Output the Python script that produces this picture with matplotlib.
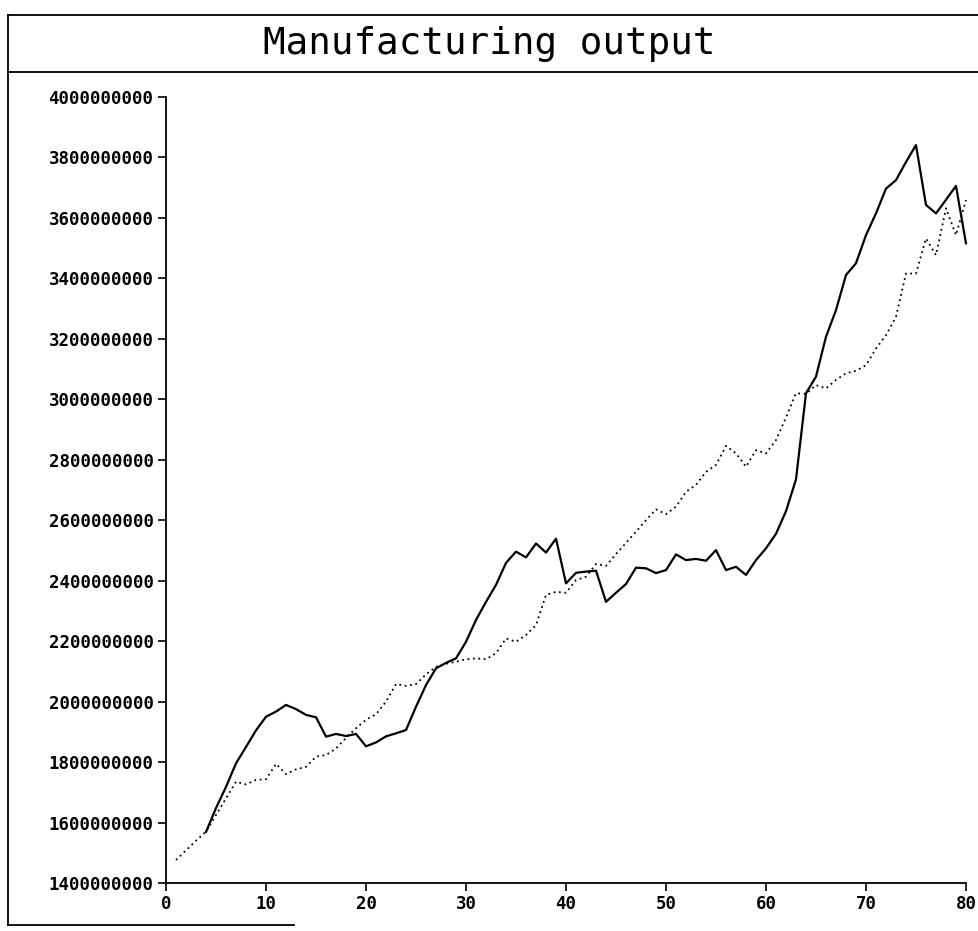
import matplotlib
matplotlib.use("Agg")
import matplotlib.pyplot as plt
from matplotlib.lines import Line2D
import numpy as np

# series, values in millions
anos_punteada = np.arange(1, 81)
punteada = [1476, 1508, 1540, 1570, 1625, 1680, 1735, 1726, 1741, 1743,
            1794, 1760, 1776, 1784, 1818, 1823, 1845, 1880, 1912, 1940,
            1958, 2000, 2058, 2052, 2058, 2090, 2115, 2125, 2132, 2140,
            2143, 2140, 2160, 2209, 2198, 2220, 2253, 2353, 2363, 2360,
            2402, 2413, 2455, 2449, 2488, 2525, 2562, 2600, 2636, 2620,
            2645, 2694, 2717, 2760, 2783, 2846, 2821, 2777, 2832, 2821,
            2865, 2940, 3020, 3018, 3047, 3036, 3064, 3086, 3094, 3113,
            3168, 3212, 3273, 3416, 3416, 3532, 3477, 3632, 3543, 3659]

anos_solida = np.arange(4, 81)
solida = [1569, 1648, 1718, 1796, 1850, 1905, 1950, 1967, 1989, 1975,
          1956, 1948, 1884, 1893, 1886, 1893, 1852, 1865, 1885, 1895,
          1906, 1983, 2055, 2110, 2128, 2143, 2198, 2270, 2330, 2386,
          2459, 2496, 2477, 2523, 2493, 2539, 2391, 2426, 2430, 2433,
          2330, 2360, 2389, 2443, 2441, 2425, 2435, 2487, 2468, 2472,
          2466, 2501, 2435, 2446, 2419, 2468, 2507, 2555, 2630, 2735,
          3020, 3075, 3207, 3295, 3411, 3450, 3543, 3615, 3697, 3725,
          3785, 3841, 3643, 3615, 3660, 3706, 3516]

titulo = "Manufacturing output"
yticks = np.arange(1400000000, 4000000001, 200000000)
xticks = np.arange(0, 81, 10)

fuente = "DejaVu Sans Mono"

fig = plt.figure(figsize=(9.79, 9.31), dpi=100)
ax = fig.add_axes([0.1696, 0.0516, 0.8171, 0.8442])

ax.plot(anos_punteada, np.array(punteada) * 1e6, color="black",
        linestyle=(0, (1, 2)), linewidth=1.3)
ax.plot(anos_solida, np.array(solida) * 1e6, color="black", linewidth=1.6)

ax.set_xlim(0, 80)
ax.set_ylim(1400000000, 4000000000)
ax.set_xticks(xticks)
ax.set_yticks(yticks)
ax.set_xticklabels([str(t) for t in xticks], family=fuente,
                   fontweight="bold", fontsize=12.5)
ax.set_yticklabels([str(t) for t in yticks], family=fuente,
                   fontweight="bold", fontsize=12.5)
ax.tick_params(direction="out", length=6, width=1.2, color="black", pad=3)
ax.spines["top"].set_visible(False)
ax.spines["right"].set_visible(False)
for s in ("left", "bottom"):
    ax.spines[s].set_linewidth(1.3)
for l in ax.lines:
    l.set_clip_on(False)

# marco y caja del titulo
for xs, ys in [([0.0082, 0.0082], [0.984, 0.0064]),
               ([0.0082, 1.0], [0.984, 0.984]),
               ([0.0082, 1.0], [0.9227, 0.9227]),
               ([0.0082, 0.30], [0.0064, 0.0064])]:
    fig.add_artist(Line2D(xs, ys, color="black", linewidth=1.3,
                          transform=fig.transFigure))

fig.text(0.5, 0.953, titulo, ha="center", va="center", family=fuente,
         fontsize=27)

fig.savefig("out.png", dpi=100)
